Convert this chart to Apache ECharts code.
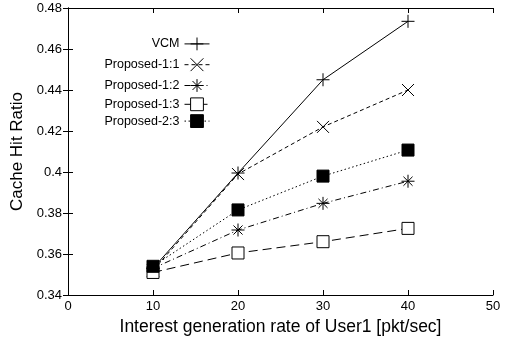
<!DOCTYPE html>
<html>
<head>
<meta charset="utf-8">
<script src="https://cdn.jsdelivr.net/npm/echarts@6/dist/echarts.min.js"></script>
<style>
html,body{margin:0;padding:0;background:#fff;}
#chart{width:507px;height:342px;}
</style>
</head>
<body>
<div id="chart"></div>
<script>
const xValues = [10, 20, 30, 40];
const seriesNames = ['VCM', 'Proposed-1:1', 'Proposed-1:2', 'Proposed-1:3', 'Proposed-2:3'];
const vcm = [0.353, 0.3995, 0.445, 0.4735];
const p11 = [0.352, 0.399, 0.422, 0.440];
const p12 = [0.353, 0.3717, 0.3847, 0.3955];
const p13 = [0.351, 0.3605, 0.366, 0.3725];
const p23 = [0.354, 0.3815, 0.398, 0.4107];
const xTicks = [0, 10, 20, 30, 40, 50];
const yTicks = [0.34, 0.36, 0.38, 0.40, 0.42, 0.44, 0.46, 0.48];

const FONT = 'Liberation Sans, Arial, Helvetica, sans-serif';
const lineTypes = ['solid', [4, 3], [6, 3, 1, 3], [9, 5], [1.5, 2.5]];
const symbols = [
  'path://M0,5L10,5M5,0L5,10',
  'path://M0,0L10,10M10,0L0,10',
  'path://M0,5L10,5M5,0L5,10M1.5,1.5L8.5,8.5M8.5,1.5L1.5,8.5',
  'rect',
  'rect'
];
const fills = ['none', 'none', 'none', '#ffffff', '#000000'];
const sizes = [13, 12, 13, 12, 12];
const allData = [vcm, p11, p12, p13, p23];

const series = seriesNames.map((name, i) => ({
  name: name,
  type: 'line',
  xAxisIndex: 0,
  yAxisIndex: 0,
  data: xValues.map((x, j) => [x, allData[i][j]]),
  symbol: symbols[i],
  symbolSize: sizes[i],
  showAllSymbol: true,
  animation: false,
  lineStyle: { color: '#000', width: 1, type: lineTypes[i] },
  itemStyle: { color: fills[i], borderColor: '#000', borderWidth: 1 },
  z: 2 + i
}));

const chart = echarts.init(document.getElementById('chart'), null, { renderer: 'canvas' });
const axisLabelStyle = { color: '#000', fontFamily: FONT, fontSize: 13 };
chart.setOption({
  animation: false,
  backgroundColor: '#fff',
  grid: { left: 68, right: 14, top: 8, bottom: 47 },
  legend: {
    orient: 'vertical',
    right: 292,
    top: 30,
    align: 'right',
    itemWidth: 25,
    itemHeight: 16,
    itemGap: 3,
    lineStyle: { width: 1 },
    itemStyle: { borderWidth: 1 },
    textStyle: { color: '#000', fontFamily: FONT, fontSize: 12.5 },
    data: seriesNames
  },
  xAxis: [{
    type: 'value',
    min: xTicks[0], max: xTicks[xTicks.length - 1], interval: 10,
    name: 'Interest generation rate of User1 [pkt/sec]',
    nameLocation: 'middle',
    nameGap: 22,
    nameTextStyle: { color: '#000', fontFamily: FONT, fontSize: 17.5 },
    axisLine: { lineStyle: { color: '#000', width: 1 } },
    axisTick: { inside: true, length: 5, lineStyle: { color: '#000' } },
    axisLabel: Object.assign({ margin: 5 }, axisLabelStyle),
    splitLine: { show: false }
  }, {
    type: 'value', position: 'top',
    min: xTicks[0], max: xTicks[xTicks.length - 1], interval: 10,
    axisLine: { show: true, lineStyle: { color: '#000', width: 1 } },
    axisTick: { inside: true, length: 5, lineStyle: { color: '#000' } },
    axisLabel: { show: false },
    splitLine: { show: false }
  }],
  yAxis: [{
    type: 'value',
    min: yTicks[0], max: yTicks[yTicks.length - 1], interval: 0.02,
    name: 'Cache Hit Ratio',
    nameLocation: 'middle',
    nameGap: 38,
    nameTextStyle: { color: '#000', fontFamily: FONT, fontSize: 17 },
    axisLine: { show: true, lineStyle: { color: '#000', width: 1 } },
    axisTick: { show: true, inside: true, length: 5, lineStyle: { color: '#000' } },
    axisLabel: Object.assign({ margin: 6, formatter: v => String(+v.toFixed(2)) }, axisLabelStyle),
    splitLine: { show: false }
  }, {
    type: 'value', position: 'right',
    min: yTicks[0], max: yTicks[yTicks.length - 1], interval: 0.02,
    axisLine: { show: true, lineStyle: { color: '#000', width: 1 } },
    axisTick: { show: true, inside: true, length: 5, lineStyle: { color: '#000' } },
    axisLabel: { show: false },
    splitLine: { show: false }
  }],
  series: series
});
</script>
</body>
</html>
